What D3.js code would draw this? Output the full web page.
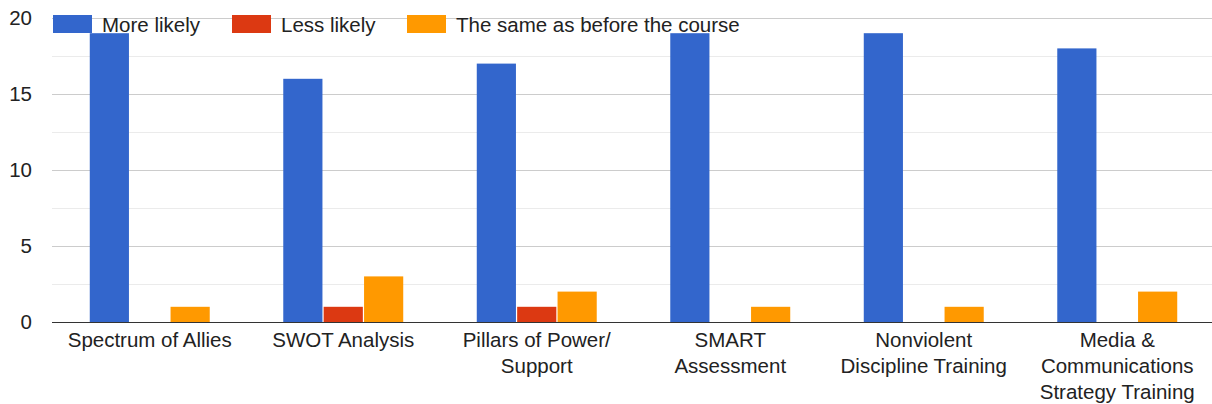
<!DOCTYPE html>
<html><head><meta charset="utf-8">
<script src="https://cdn.jsdelivr.net/npm/d3@7"></script>
<style>
html,body{margin:0;padding:0;background:#fff;}
svg{display:block;font-family:"Liberation Sans",Arial,sans-serif;}
</style></head>
<body>
<svg id="c" width="1212" height="404"></svg>
<script>
const categories = ["Spectrum of Allies", "SWOT Analysis", "Pillars of Power/\nSupport", "SMART\nAssessment", "Nonviolent\nDiscipline Training", "Media &\nCommunications\nStrategy Training"];
const seriesNames = ["More likely", "Less likely", "The same as before the course"];
const moreLikely = [19, 16, 17, 19, 19, 18];
const lessLikely = [0, 1, 1, 0, 0, 0];
const sameAsBefore = [1, 3, 2, 1, 1, 2];
const yTicks = [0, 5, 10, 15, 20];
const colors = ["#3366cc", "#dc3912", "#ff9900"];

(function () {
const series = [moreLikely, lessLikely, sameAsBefore];
const svg = d3.select("#c");
const mLeft = 52, mRight = 1212, mTop = 18, mBottom = 322;
const fs = 20.5;

const x0 = d3.scaleBand().domain(d3.range(categories.length)).range([mLeft + 1, mRight + 2]).paddingInner(0.38).paddingOuter(0.19);
const x1 = d3.scaleBand().domain(d3.range(series.length)).range([0, x0.bandwidth()]).paddingInner(0.03);
const y = d3.scaleLinear().domain([0, 20]).range([mBottom, mTop]);

svg.append("g").selectAll("line").data(d3.range(2.5, 20, 5)).join("line")
  .attr("x1", mLeft).attr("x2", mRight)
  .attr("y1", d => Math.round(y(d)) + 0.5).attr("y2", d => Math.round(y(d)) + 0.5)
  .attr("stroke", "#ebebeb").attr("stroke-width", 1);
svg.append("g").selectAll("line").data(yTicks.filter(d => d > 0)).join("line")
  .attr("x1", mLeft).attr("x2", mRight)
  .attr("y1", d => Math.round(y(d)) + 0.5).attr("y2", d => Math.round(y(d)) + 0.5)
  .attr("stroke", "#cccccc").attr("stroke-width", 1);

svg.append("g").selectAll("text").data(yTicks).join("text")
  .attr("x", 32).attr("y", d => y(d)).attr("dy", "0.35em")
  .attr("text-anchor", "end").attr("font-size", fs).attr("fill", "#222")
  .text(d => d);

const g = svg.append("g");
series.forEach((vals, si) => {
  g.append("g").selectAll("rect").data(vals).join("rect")
    .attr("x", (d, i) => x0(i) + x1(si))
    .attr("width", x1.bandwidth())
    .attr("y", d => y(d))
    .attr("height", d => y(0) - y(d))
    .attr("fill", colors[si]);
});

svg.append("line").attr("x1", mLeft).attr("x2", mRight)
  .attr("y1", mBottom + 0.5).attr("y2", mBottom + 0.5)
  .attr("stroke", "#333").attr("stroke-width", 1.2);

const xl = svg.append("g").selectAll("text").data(categories).join("text")
  .attr("text-anchor", "middle").attr("font-size", fs).attr("fill", "#222")
  .attr("x", (d, i) => x0(i) + x0.bandwidth() / 2)
  .attr("y", 347);
xl.each(function(d, i) {
  const t = d3.select(this);
  d.split("\n").forEach((line, li) => {
    t.append("tspan").attr("x", x0(i) + x0.bandwidth() / 2).attr("y", 347 + li * 26).text(line);
  });
});

const legendX = [53, 232, 407];
const lg = svg.append("g");
seriesNames.forEach((name, i) => {
  lg.append("rect").attr("x", legendX[i]).attr("y", 15).attr("width", 39).attr("height", 18).attr("fill", colors[i]);
  lg.append("text").attr("x", legendX[i] + 49).attr("y", 25).attr("dy", "0.35em")
    .attr("font-size", fs).attr("fill", "#222").text(name);
});
})();
</script>
</body></html>
